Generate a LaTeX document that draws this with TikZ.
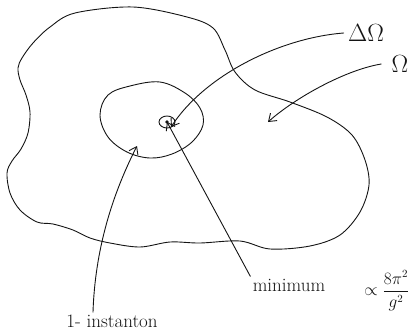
\documentclass[tikz,border=0pt]{standalone}
\usepackage{fontspec}
\usepackage{amsmath,amssymb}
\usepackage{xcolor}
\usepackage{tikz}
\usetikzlibrary{arrows.meta}
\definecolor{inkblack}{RGB}{20,20,20}

\begin{document}
\begin{tikzpicture}[x=1pt,y=-1pt,
  line width=0.9pt, draw=inkblack, line cap=round, line join=round,
  >={Straight Barb[length=7pt,width=10pt]},
  lbl/.style={inner sep=2pt, text=inkblack, font=\fontsize{19}{22}\selectfont},
  sym/.style={inner sep=2pt, text=inkblack, font=\fontsize{24}{26}\selectfont},
  frac/.style={inner sep=1pt, text=inkblack, font=\fontsize{16}{19}\selectfont, anchor=west}]
\useasboundingbox (0,0) rectangle (417,333);
\draw plot[smooth cycle, tension=0.55] coordinates {
  (75,13) (133,7) (187,17) (213,28) (225,50) (235,72) (255,90) (290,102)
  (327,117) (352,135) (365,160) (369,185) (360,212) (340,235) (310,246)
  (270,249) (240,241) (200,243) (170,242) (140,247) (110,243) (90,238)
  (73,230) (53,224) (37,222) (20,210) (10,193) (7,173) (12,161) (21,149)
  (28,133) (30,112) (26,95) (20,80) (18,68) (22,58) (33,43) (50,27)};
\draw plot[smooth cycle, tension=0.6] coordinates {
  (130,86) (160,82) (185,93) (200,108) (203,125) (192,142) (172,154)
  (150,158) (127,152) (108,137) (100,115) (108,95)};
\coordinate (minpt) at (167,122);
\draw (minpt) ellipse [x radius=8, y radius=6];
\fill[inkblack] (minpt) circle (1.8);
\node[sym] (dOmega) at (366,33) {$\Delta\Omega$};
\node[sym] (Omega) at (400,64) {$\Omega$};
\node[lbl] (mini) at (289,285) {minimum};
\node[lbl] (inst) at (112,321) {1- instanton};
\node[frac] (coupling) at (363,291) {$\propto\dfrac{8\pi^2}{g^2}$};
\coordinate (inner) at (137,146);
\coordinate (bulk) at (268,122);
\draw[->] ([xshift=-2pt]dOmega.west) .. controls (280,38) and (205,75) .. ([shift={(4pt,-5pt)}]minpt);
\draw[->] ([xshift=-8pt]Omega.west) .. controls (345,70) and (295,98) .. (bulk);
\draw[->] (mini.north west) -- (minpt);
\draw[->] ([xshift=-19pt]inst.north) .. controls (95,250) and (112,195) .. (inner);
\end{tikzpicture}
\end{document}
